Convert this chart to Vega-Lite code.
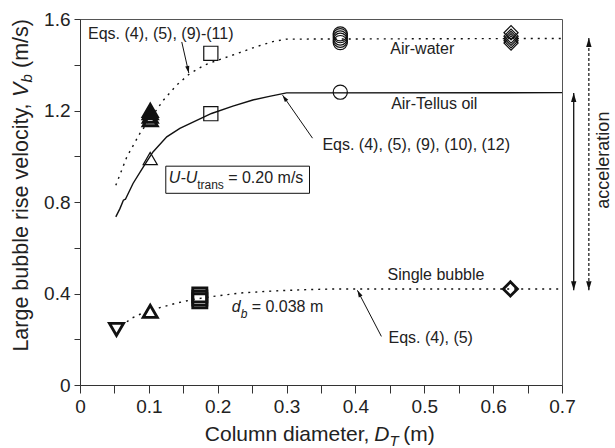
{
  "$schema": "https://vega.github.io/schema/vega-lite/v6.json",
  "width": 482,
  "height": 366,
  "autosize": {"type": "none"},
  "padding": {"left": 80, "top": 19, "right": 53, "bottom": 63},
  "background": "white",
  "config": {
    "font": "Liberation Sans",
    "view": {"stroke": "#555", "strokeWidth": 1},
    "axis": {"grid": false, "domainColor": "#333", "tickColor": "#333", "labelColor": "#222", "labelFont": "Liberation Sans", "labelFontSize": 19, "domainWidth": 1, "tickWidth": 1}
  },
  "datasets": {
    "curves": [
      {"series": "aw", "x": 0.052, "y": 0.873},
      {"series": "aw", "x": 0.068, "y": 0.997},
      {"series": "aw", "x": 0.087, "y": 1.1},
      {"series": "aw", "x": 0.111, "y": 1.202},
      {"series": "aw", "x": 0.121, "y": 1.245},
      {"series": "aw", "x": 0.14, "y": 1.31},
      {"series": "aw", "x": 0.159, "y": 1.36},
      {"series": "aw", "x": 0.181, "y": 1.399},
      {"series": "aw", "x": 0.208, "y": 1.428},
      {"series": "aw", "x": 0.232, "y": 1.453},
      {"series": "aw", "x": 0.256, "y": 1.479},
      {"series": "aw", "x": 0.28, "y": 1.501},
      {"series": "aw", "x": 0.3, "y": 1.512},
      {"series": "aw", "x": 0.7, "y": 1.515},
      {"series": "to", "x": 0.052, "y": 0.735},
      {"series": "to", "x": 0.058, "y": 0.771},
      {"series": "to", "x": 0.063, "y": 0.808},
      {"series": "to", "x": 0.066, "y": 0.812},
      {"series": "to", "x": 0.077, "y": 0.881},
      {"series": "to", "x": 0.092, "y": 0.954},
      {"series": "to", "x": 0.106, "y": 1.019},
      {"series": "to", "x": 0.126, "y": 1.085},
      {"series": "to", "x": 0.145, "y": 1.122},
      {"series": "to", "x": 0.191, "y": 1.187},
      {"series": "to", "x": 0.222, "y": 1.219},
      {"series": "to", "x": 0.251, "y": 1.246},
      {"series": "to", "x": 0.275, "y": 1.262},
      {"series": "to", "x": 0.3, "y": 1.277},
      {"series": "to", "x": 0.7, "y": 1.278},
      {"series": "sb", "x": 0.06, "y": 0.258},
      {"series": "sb", "x": 0.075, "y": 0.292},
      {"series": "sb", "x": 0.089, "y": 0.312},
      {"series": "sb", "x": 0.102, "y": 0.325},
      {"series": "sb", "x": 0.116, "y": 0.338},
      {"series": "sb", "x": 0.14, "y": 0.358},
      {"series": "sb", "x": 0.164, "y": 0.374},
      {"series": "sb", "x": 0.193, "y": 0.387},
      {"series": "sb", "x": 0.232, "y": 0.402},
      {"series": "sb", "x": 0.28, "y": 0.411},
      {"series": "sb", "x": 0.329, "y": 0.417},
      {"series": "sb", "x": 0.372, "y": 0.42},
      {"series": "sb", "x": 0.7, "y": 0.42}
    ],
    "markers": [
      {"system": "Air-water", "shape": "triangle-up", "x": 0.102, "y": 1.16},
      {"system": "Air-water", "shape": "triangle-up", "x": 0.102, "y": 1.175},
      {"system": "Air-water", "shape": "triangle-up", "x": 0.102, "y": 1.19},
      {"system": "Air-water", "shape": "triangle-up", "x": 0.102, "y": 1.2},
      {"system": "Air-water", "shape": "square", "x": 0.19, "y": 1.45},
      {"system": "Air-water", "shape": "circle", "x": 0.378, "y": 1.497},
      {"system": "Air-water", "shape": "circle", "x": 0.378, "y": 1.507},
      {"system": "Air-water", "shape": "circle", "x": 0.378, "y": 1.517},
      {"system": "Air-water", "shape": "circle", "x": 0.378, "y": 1.527},
      {"system": "Air-water", "shape": "circle", "x": 0.378, "y": 1.535},
      {"system": "Air-water", "shape": "diamond", "x": 0.626, "y": 1.495},
      {"system": "Air-water", "shape": "diamond", "x": 0.626, "y": 1.505},
      {"system": "Air-water", "shape": "diamond", "x": 0.626, "y": 1.515},
      {"system": "Air-water", "shape": "diamond", "x": 0.626, "y": 1.525},
      {"system": "Air-water", "shape": "diamond", "x": 0.626, "y": 1.54},
      {"system": "Air-Tellus oil", "shape": "triangle-up", "x": 0.102, "y": 0.99},
      {"system": "Air-Tellus oil", "shape": "square", "x": 0.19, "y": 1.186},
      {"system": "Air-Tellus oil", "shape": "circle", "x": 0.378, "y": 1.28},
      {"system": "Single bubble", "shape": "triangle-down", "x": 0.053, "y": 0.243},
      {"system": "Single bubble", "shape": "triangle-up", "x": 0.102, "y": 0.322},
      {"system": "Single bubble", "shape": "square", "x": 0.174, "y": 0.368},
      {"system": "Single bubble", "shape": "square", "x": 0.174, "y": 0.38},
      {"system": "Single bubble", "shape": "square", "x": 0.174, "y": 0.394},
      {"system": "Single bubble", "shape": "diamond", "x": 0.625, "y": 0.42}
    ],
    "arrows": [
      {"arrow": "a1", "x": 0.1478, "y": 1.4996, "x2": 0.158, "y2": 1.364},
      {"arrow": "a2", "x": 0.3377, "y": 1.079, "x2": 0.2942, "y2": 1.267},
      {"arrow": "a3", "x": 0.4377, "y": 0.2124, "x2": 0.4029, "y2": 0.4138},
      {"arrow": "solid", "x": 0.717, "y": 1.276, "x2": 0.717, "y2": 0.414},
      {"arrow": "dashed", "x": 0.739, "y": 1.517, "x2": 0.739, "y2": 0.414}
    ],
    "box": [
      {"x": 0.1246, "x2": 0.3333, "y": 0.838, "y2": 0.9566}
    ],
    "texts": [
      {"role": "left", "text": "Eqs. (4), (5), (9)-(11)", "x": 0.0116, "y": 1.513},
      {"role": "left", "text": "Eqs. (4), (5), (9), (10), (12)", "x": 0.352, "y": 1.027},
      {"role": "left", "text": "Eqs. (4), (5)", "x": 0.448, "y": 0.182},
      {"role": "left", "text": "= 0.20 m/s", "x": 0.2152, "y": 0.882},
      {"role": "left", "text": "= 0.038 m", "x": 0.2493, "y": 0.317},
      {"role": "center", "text": "Air-water", "x": 0.497, "y": 1.447},
      {"role": "center", "text": "Air-Tellus oil", "x": 0.5145, "y": 1.206},
      {"role": "center", "text": "Single bubble", "x": 0.517, "y": 0.4575},
      {"role": "italic", "text": "U-U", "x": 0.129, "y": 0.882},
      {"role": "italic", "text": "d", "x": 0.2203, "y": 0.317},
      {"role": "sub", "text": "trans", "x": 0.1701, "y": 0.858},
      {"role": "subitalic", "text": "b", "x": 0.2333, "y": 0.295},
      {"role": "xt", "text": "Column diameter,", "x": 0.4203, "y": -0.243},
      {"role": "xt_it", "text": "D", "x": 0.4275, "y": -0.243},
      {"role": "xt_sub", "text": "T", "x": 0.4493, "y": -0.265},
      {"role": "xt_end", "text": "(m)", "x": 0.4696, "y": -0.243},
      {"role": "yt", "text": "Large bubble rise velocity,", "x": -0.0754, "y": 1.231},
      {"role": "yt_it", "text": "V", "x": -0.0754, "y": 1.2588},
      {"role": "yt_sub", "text": "b", "x": -0.0696, "y": 1.3222},
      {"role": "yt_end", "text": "(m/s)", "x": -0.0754, "y": 1.3857},
      {"role": "acc", "text": "acceleration", "x": 0.7609, "y": 0.983}
    ]
  },
  "encoding": {
    "x": {
      "field": "x", "type": "quantitative",
      "scale": {"domain": [0, 0.7], "nice": false, "zero": false},
      "axis": {
        "title": null,
        "values": [0, 0.05, 0.1, 0.15, 0.2, 0.25, 0.3, 0.35, 0.4, 0.45, 0.5, 0.55, 0.6, 0.65, 0.7],
        "labelExpr": "round(datum.value*20) % 2 === 0 ? format(datum.value, '~g') : ''",
        "tickSize": 8, "labelPadding": 4, "labelFlush": false, "labelOverlap": false
      }
    },
    "y": {
      "field": "y", "type": "quantitative",
      "scale": {"domain": [0, 1.6], "nice": false},
      "axis": {
        "title": null,
        "values": [0, 0.2, 0.4, 0.6, 0.8, 1.0, 1.2, 1.4, 1.6],
        "labelExpr": "round(datum.value*5) % 2 === 0 ? format(datum.value, '~g') : ''",
        "tickSize": 6, "labelPadding": 4, "labelFlush": false, "labelOverlap": false
      }
    }
  },
  "layer": [
    {
      "data": {"name": "box"},
      "mark": {"type": "rect", "fill": "white", "stroke": "#111", "strokeWidth": 1},
      "encoding": {"x2": {"field": "x2"}, "y2": {"field": "y2"}}
    },
    {
      "data": {"name": "curves"},
      "transform": [{"filter": "datum.series === 'aw'"}],
      "mark": {"type": "line", "color": "#111", "strokeWidth": 1.4, "strokeDash": [2, 5]},
      "encoding": {}
    },
    {
      "data": {"name": "curves"},
      "transform": [{"filter": "datum.series === 'to'"}],
      "mark": {"type": "line", "color": "#111", "strokeWidth": 1.4},
      "encoding": {}
    },
    {
      "data": {"name": "curves"},
      "transform": [{"filter": "datum.series === 'sb'"}],
      "mark": {"type": "line", "color": "#111", "strokeWidth": 1.4, "strokeDash": [2, 5]},
      "encoding": {}
    },
    {
      "data": {"name": "markers"},
      "transform": [{"filter": "(datum.system === 'Air-water' && datum.shape !== 'triangle-up') || datum.system === 'Air-Tellus oil'"}],
      "mark": {"type": "point", "filled": false, "color": "#111", "strokeWidth": 1.2, "opacity": 1},
      "encoding": {
        "shape": {"field": "shape", "type": "nominal", "scale": null},
        "size": {"field": "shape", "type": "ordinal", "scale": {"domain": ["triangle-up", "triangle-down", "square", "circle", "diamond"], "range": [200, 200, 180, 150, 300]}, "legend": null}
      }
    },
    {
      "data": {"name": "markers"},
      "transform": [{"filter": "datum.system === 'Single bubble' || (datum.system === 'Air-water' && datum.shape === 'triangle-up')"}],
      "mark": {"type": "point", "filled": false, "color": "#111", "strokeWidth": 2.8, "opacity": 1},
      "encoding": {
        "shape": {"field": "shape", "type": "nominal", "scale": null},
        "size": {"field": "shape", "type": "ordinal", "scale": {"domain": ["triangle-up", "triangle-down", "square", "circle", "diamond"], "range": [170, 170, 150, 150, 210]}, "legend": null}
      }
    },
    {
      "data": {"name": "arrows"},
      "transform": [{"filter": "indexof(['a1','a2','a3'], datum.arrow) >= 0"}],
      "mark": {"type": "rule", "color": "#111", "strokeWidth": 1},
      "encoding": {"x2": {"field": "x2"}, "y2": {"field": "y2"}}
    },
    {
      "data": {"name": "arrows"},
      "transform": [{"filter": "datum.arrow === 'solid'"}],
      "mark": {"type": "rule", "color": "#111", "strokeWidth": 1.3},
      "encoding": {"x2": {"field": "x2"}, "y2": {"field": "y2"}}
    },
    {
      "data": {"name": "arrows"},
      "transform": [{"filter": "datum.arrow === 'dashed'"}],
      "mark": {"type": "rule", "color": "#111", "strokeWidth": 1.2, "strokeDash": [3, 2]},
      "encoding": {"x2": {"field": "x2"}, "y2": {"field": "y2"}}
    },
    {
      "data": {"name": "arrows"},
      "transform": [{"filter": "datum.arrow === 'a1'"}],
      "mark": {"type": "point", "shape": "M0,0L0.3,1L-0.3,1Z", "filled": true, "color": "#111", "size": 196, "angle": 167.3, "opacity": 1},
      "encoding": {"x": {"field": "x2", "type": "quantitative", "title": null}, "y": {"field": "y2", "type": "quantitative", "title": null}}
    },
    {
      "data": {"name": "arrows"},
      "transform": [{"filter": "datum.arrow === 'a2'"}],
      "mark": {"type": "point", "shape": "M0,0L0.3,1L-0.3,1Z", "filled": true, "color": "#111", "size": 196, "angle": -34.9, "opacity": 1},
      "encoding": {"x": {"field": "x2", "type": "quantitative", "title": null}, "y": {"field": "y2", "type": "quantitative", "title": null}}
    },
    {
      "data": {"name": "arrows"},
      "transform": [{"filter": "datum.arrow === 'a3'"}],
      "mark": {"type": "point", "shape": "M0,0L0.3,1L-0.3,1Z", "filled": true, "color": "#111", "size": 196, "angle": -27.6, "opacity": 1},
      "encoding": {"x": {"field": "x2", "type": "quantitative", "title": null}, "y": {"field": "y2", "type": "quantitative", "title": null}}
    },
    {
      "data": {"name": "arrows"},
      "transform": [{"filter": "datum.arrow === 'solid' || datum.arrow === 'dashed'"}],
      "mark": {"type": "point", "shape": "M0,0L0.3,1L-0.3,1Z", "filled": true, "color": "#111", "size": 324, "angle": 0, "opacity": 1},
      "encoding": {}
    },
    {
      "data": {"name": "arrows"},
      "transform": [{"filter": "datum.arrow === 'solid' || datum.arrow === 'dashed'"}],
      "mark": {"type": "point", "shape": "M0,0L0.3,1L-0.3,1Z", "filled": true, "color": "#111", "size": 324, "angle": 180, "opacity": 1},
      "encoding": {"x": {"field": "x2", "type": "quantitative", "title": null}, "y": {"field": "y2", "type": "quantitative", "title": null}}
    },
    {
      "data": {"name": "texts"},
      "transform": [{"filter": "datum.role === 'left'"}],
      "mark": {"type": "text", "align": "left", "baseline": "alphabetic", "fontSize": 16, "color": "#222"},
      "encoding": {"text": {"field": "text"}}
    },
    {
      "data": {"name": "texts"},
      "transform": [{"filter": "datum.role === 'center'"}],
      "mark": {"type": "text", "align": "center", "baseline": "alphabetic", "fontSize": 16, "color": "#222"},
      "encoding": {"text": {"field": "text"}}
    },
    {
      "data": {"name": "texts"},
      "transform": [{"filter": "datum.role === 'italic'"}],
      "mark": {"type": "text", "align": "left", "baseline": "alphabetic", "fontSize": 16, "fontStyle": "italic", "color": "#222"},
      "encoding": {"text": {"field": "text"}}
    },
    {
      "data": {"name": "texts"},
      "transform": [{"filter": "datum.role === 'sub'"}],
      "mark": {"type": "text", "align": "left", "baseline": "alphabetic", "fontSize": 12, "color": "#222"},
      "encoding": {"text": {"field": "text"}}
    },
    {
      "data": {"name": "texts"},
      "transform": [{"filter": "datum.role === 'subitalic'"}],
      "mark": {"type": "text", "align": "left", "baseline": "alphabetic", "fontSize": 12, "fontStyle": "italic", "color": "#222"},
      "encoding": {"text": {"field": "text"}}
    },
    {
      "data": {"name": "texts"},
      "transform": [{"filter": "datum.role === 'xt'"}],
      "mark": {"type": "text", "align": "right", "baseline": "alphabetic", "fontSize": 21, "color": "#222"},
      "encoding": {"text": {"field": "text"}}
    },
    {
      "data": {"name": "texts"},
      "transform": [{"filter": "datum.role === 'xt_it'"}],
      "mark": {"type": "text", "align": "left", "baseline": "alphabetic", "fontSize": 21, "fontStyle": "italic", "color": "#222"},
      "encoding": {"text": {"field": "text"}}
    },
    {
      "data": {"name": "texts"},
      "transform": [{"filter": "datum.role === 'xt_sub'"}],
      "mark": {"type": "text", "align": "left", "baseline": "alphabetic", "fontSize": 15, "fontStyle": "italic", "color": "#222"},
      "encoding": {"text": {"field": "text"}}
    },
    {
      "data": {"name": "texts"},
      "transform": [{"filter": "datum.role === 'xt_end'"}],
      "mark": {"type": "text", "align": "left", "baseline": "alphabetic", "fontSize": 21, "color": "#222"},
      "encoding": {"text": {"field": "text"}}
    },
    {
      "data": {"name": "texts"},
      "transform": [{"filter": "datum.role === 'yt'"}],
      "mark": {"type": "text", "align": "right", "baseline": "alphabetic", "angle": 270, "fontSize": 21.5, "color": "#222"},
      "encoding": {"text": {"field": "text"}}
    },
    {
      "data": {"name": "texts"},
      "transform": [{"filter": "datum.role === 'yt_it'"}],
      "mark": {"type": "text", "align": "left", "baseline": "alphabetic", "angle": 270, "fontSize": 21.5, "fontStyle": "italic", "color": "#222"},
      "encoding": {"text": {"field": "text"}}
    },
    {
      "data": {"name": "texts"},
      "transform": [{"filter": "datum.role === 'yt_sub'"}],
      "mark": {"type": "text", "align": "left", "baseline": "alphabetic", "angle": 270, "fontSize": 15, "fontStyle": "italic", "color": "#222"},
      "encoding": {"text": {"field": "text"}}
    },
    {
      "data": {"name": "texts"},
      "transform": [{"filter": "datum.role === 'yt_end'"}],
      "mark": {"type": "text", "align": "left", "baseline": "alphabetic", "angle": 270, "fontSize": 21.5, "color": "#222"},
      "encoding": {"text": {"field": "text"}}
    },
    {
      "data": {"name": "texts"},
      "transform": [{"filter": "datum.role === 'acc'"}],
      "mark": {"type": "text", "align": "center", "baseline": "middle", "angle": 270, "fontSize": 18, "color": "#222"},
      "encoding": {"text": {"field": "text"}}
    }
  ]
}
